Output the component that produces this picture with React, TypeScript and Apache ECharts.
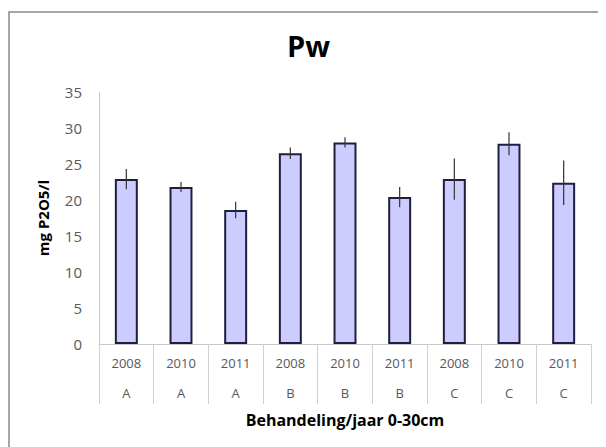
import React, { useEffect, useRef } from "react";
import * as echarts from "echarts";

const years = ["2008", "2010", "2011", "2008", "2010", "2011", "2008", "2010", "2011"];
const groups = ["A", "A", "A", "B", "B", "B", "C", "C", "C"];
const values = [22.9, 21.8, 18.6, 26.5, 28.0, 20.4, 22.9, 27.8, 22.4];
const errors = [1.4, 0.7, 1.15, 0.8, 0.7, 1.4, 2.85, 1.6, 3.1];
const yTicks = { min: 0, max: 35, interval: 5 };

const FONT = "'Open Sans', 'Noto Sans', sans-serif";

export default function App() {
  const ref = useRef<HTMLDivElement>(null);
  useEffect(() => {
    if (!ref.current) return;
    const chart = echarts.init(ref.current, undefined, { renderer: "svg" });
    const cats = years.map((y, i) => `${y}|${groups[i]}`);
    const errData = values.map((v, i) => [i, v - errors[i], v + errors[i]]);
    chart.setOption({
      animation: false,
      backgroundColor: "#ffffff",
      textStyle: { fontFamily: FONT },
      title: {
        text: "Pw",
        left: 279,
        top: 23,
        padding: 0,
        textStyle: { fontFamily: FONT, fontSize: 29, fontWeight: "bold", color: "#000000" },
      },
      graphic: [
        {
          type: "rect",
          shape: { x: 1, y: 4, width: 800, height: 800 },
          style: { fill: "none", stroke: "#a6a6a6", lineWidth: 2 },
          silent: true,
        },
      ],
      grid: { left: 91, top: 84, width: 492, height: 252, containLabel: false },
      xAxis: {
        type: "category",
        data: cats,
        name: "Behandeling/jaar 0-30cm",
        nameLocation: "middle",
        nameGap: 68,
        nameTextStyle: { fontFamily: FONT, fontSize: 16, fontWeight: "bold", color: "#000000" },
        axisLine: { show: true, lineStyle: { color: "#c8c8c8", width: 1 } },
        axisTick: { show: true, interval: 0, length: 60, lineStyle: { color: "#d0d0d0", width: 1 } },
        axisLabel: {
          interval: 0,
          margin: 4,
          formatter: (v: string) => {
            const [y, g] = v.split("|");
            return `{y|${y}}\n{g|${g}}`;
          },
          rich: {
            y: { fontFamily: FONT, fontSize: 13, color: "#595959", lineHeight: 30 },
            g: { fontFamily: FONT, fontSize: 13, color: "#595959", lineHeight: 30 },
          },
        },
      },
      yAxis: {
        type: "value",
        min: yTicks.min,
        max: yTicks.max,
        interval: yTicks.interval,
        name: "mg P2O5/l",
        nameLocation: "middle",
        nameGap: 49,
        nameTextStyle: { fontFamily: FONT, fontSize: 15, fontWeight: "bold", color: "#000000" },
        axisLine: { show: true, lineStyle: { color: "#c8c8c8", width: 1 } },
        axisTick: { show: false },
        splitLine: { show: false },
        axisLabel: { margin: 17, fontFamily: FONT, fontSize: 15, color: "#595959" },
      },
      series: [
        {
          type: "bar",
          data: values,
          barWidth: "42%",
          itemStyle: { color: "#ccccff", borderColor: "#1f1f3d", borderWidth: 2 },
        },
        {
          type: "custom",
          data: errData,
          z: 10,
          renderItem: (params: any, api: any) => {
            const x = api.value(0);
            const lo = api.coord([x, api.value(1)]);
            const hi = api.coord([x, api.value(2)]);
            return {
              type: "line",
              shape: { x1: lo[0], y1: lo[1], x2: hi[0], y2: hi[1] },
              style: { stroke: "#333333", lineWidth: 1.2 },
            };
          },
        },
      ],
    });
    return () => chart.dispose();
  }, []);
  return <div ref={ref} style={{ width: 598, height: 439 }} />;
}
